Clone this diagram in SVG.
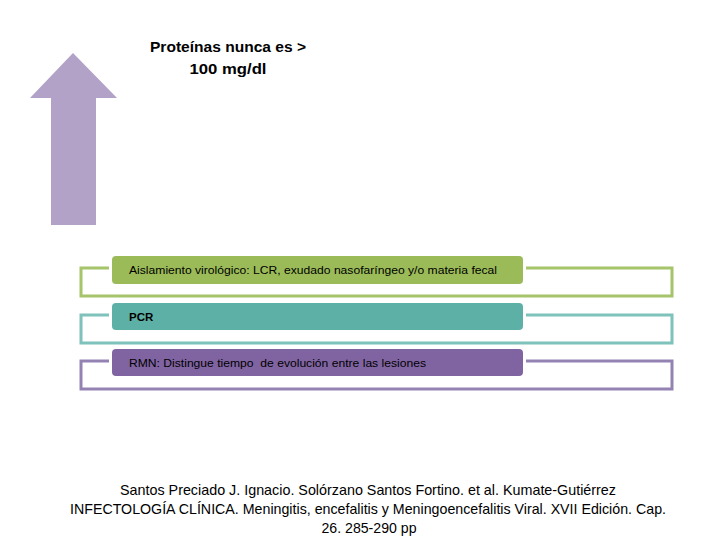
<svg xmlns="http://www.w3.org/2000/svg" width="720" height="540" viewBox="0 0 720 540">
<style>
.t{font-family:"Liberation Sans",Arial,sans-serif;fill:#000}
.title{font-size:14px;font-weight:bold;text-anchor:middle}
.pt{font-size:11.5px}
.ref{font-size:15px;text-anchor:middle}
.frame{fill:none;stroke-width:3}
</style>
<rect width="720" height="540" fill="#fff"/>
<g id="arrow">
<polygon points="73,53 117,98 96,98 96,225 51,225 51,98 30,98" fill="#B2A2C7"/>
</g>
<g id="title">
<text class="t title" x="228" y="52" textLength="156" lengthAdjust="spacingAndGlyphs">Proteínas nunca es &gt;</text>
<text class="t title" x="228" y="74" textLength="77" lengthAdjust="spacingAndGlyphs">100 mg/dl</text>
</g>
<g id="connectors">
<polyline class="frame" stroke="#A6C46A" points="109,268 81,268 81,296 672,296 672,268 526,268"/>
<polyline class="frame" stroke="#7EC2BB" points="109,315 81,315 81,343 672,343 672,315 526,315"/>
<polyline class="frame" stroke="#9482B3" points="109,361 81,361 81,389 672,389 672,361 526,361"/>
</g>
<g id="node1">
<rect x="112" y="256" width="411" height="28" rx="4" fill="#9BBB59"/>
<text class="t pt" x="129" y="274" textLength="368" lengthAdjust="spacingAndGlyphs">Aislamiento virológico: LCR, exudado nasofaríngeo y/o materia fecal</text>
</g>
<g id="node2">
<rect x="112" y="303" width="411" height="27" rx="4" fill="#5DB0A5"/>
<text class="t pt" x="129" y="321" font-weight="bold">PCR</text>
</g>
<g id="node3">
<rect x="112" y="349" width="411" height="27" rx="4" fill="#8064A2"/>
<text class="t pt" x="129" y="367" textLength="297" lengthAdjust="spacingAndGlyphs" xml:space="preserve">RMN: Distingue tiempo  de evolución entre las lesiones</text>
</g>
<g id="reference">
<text class="t ref" x="368" y="495" textLength="496" lengthAdjust="spacingAndGlyphs">Santos Preciado J. Ignacio. Solórzano Santos Fortino. et al. Kumate-Gutiérrez</text>
<text class="t ref" x="368" y="514" textLength="596" lengthAdjust="spacingAndGlyphs">INFECTOLOGÍA CLÍNICA. Meningitis, encefalitis y Meningoencefalitis Viral. XVII Edición. Cap.</text>
<text class="t ref" x="369" y="533" textLength="95" lengthAdjust="spacingAndGlyphs">26. 285-290 pp</text>
</g>
</svg>
